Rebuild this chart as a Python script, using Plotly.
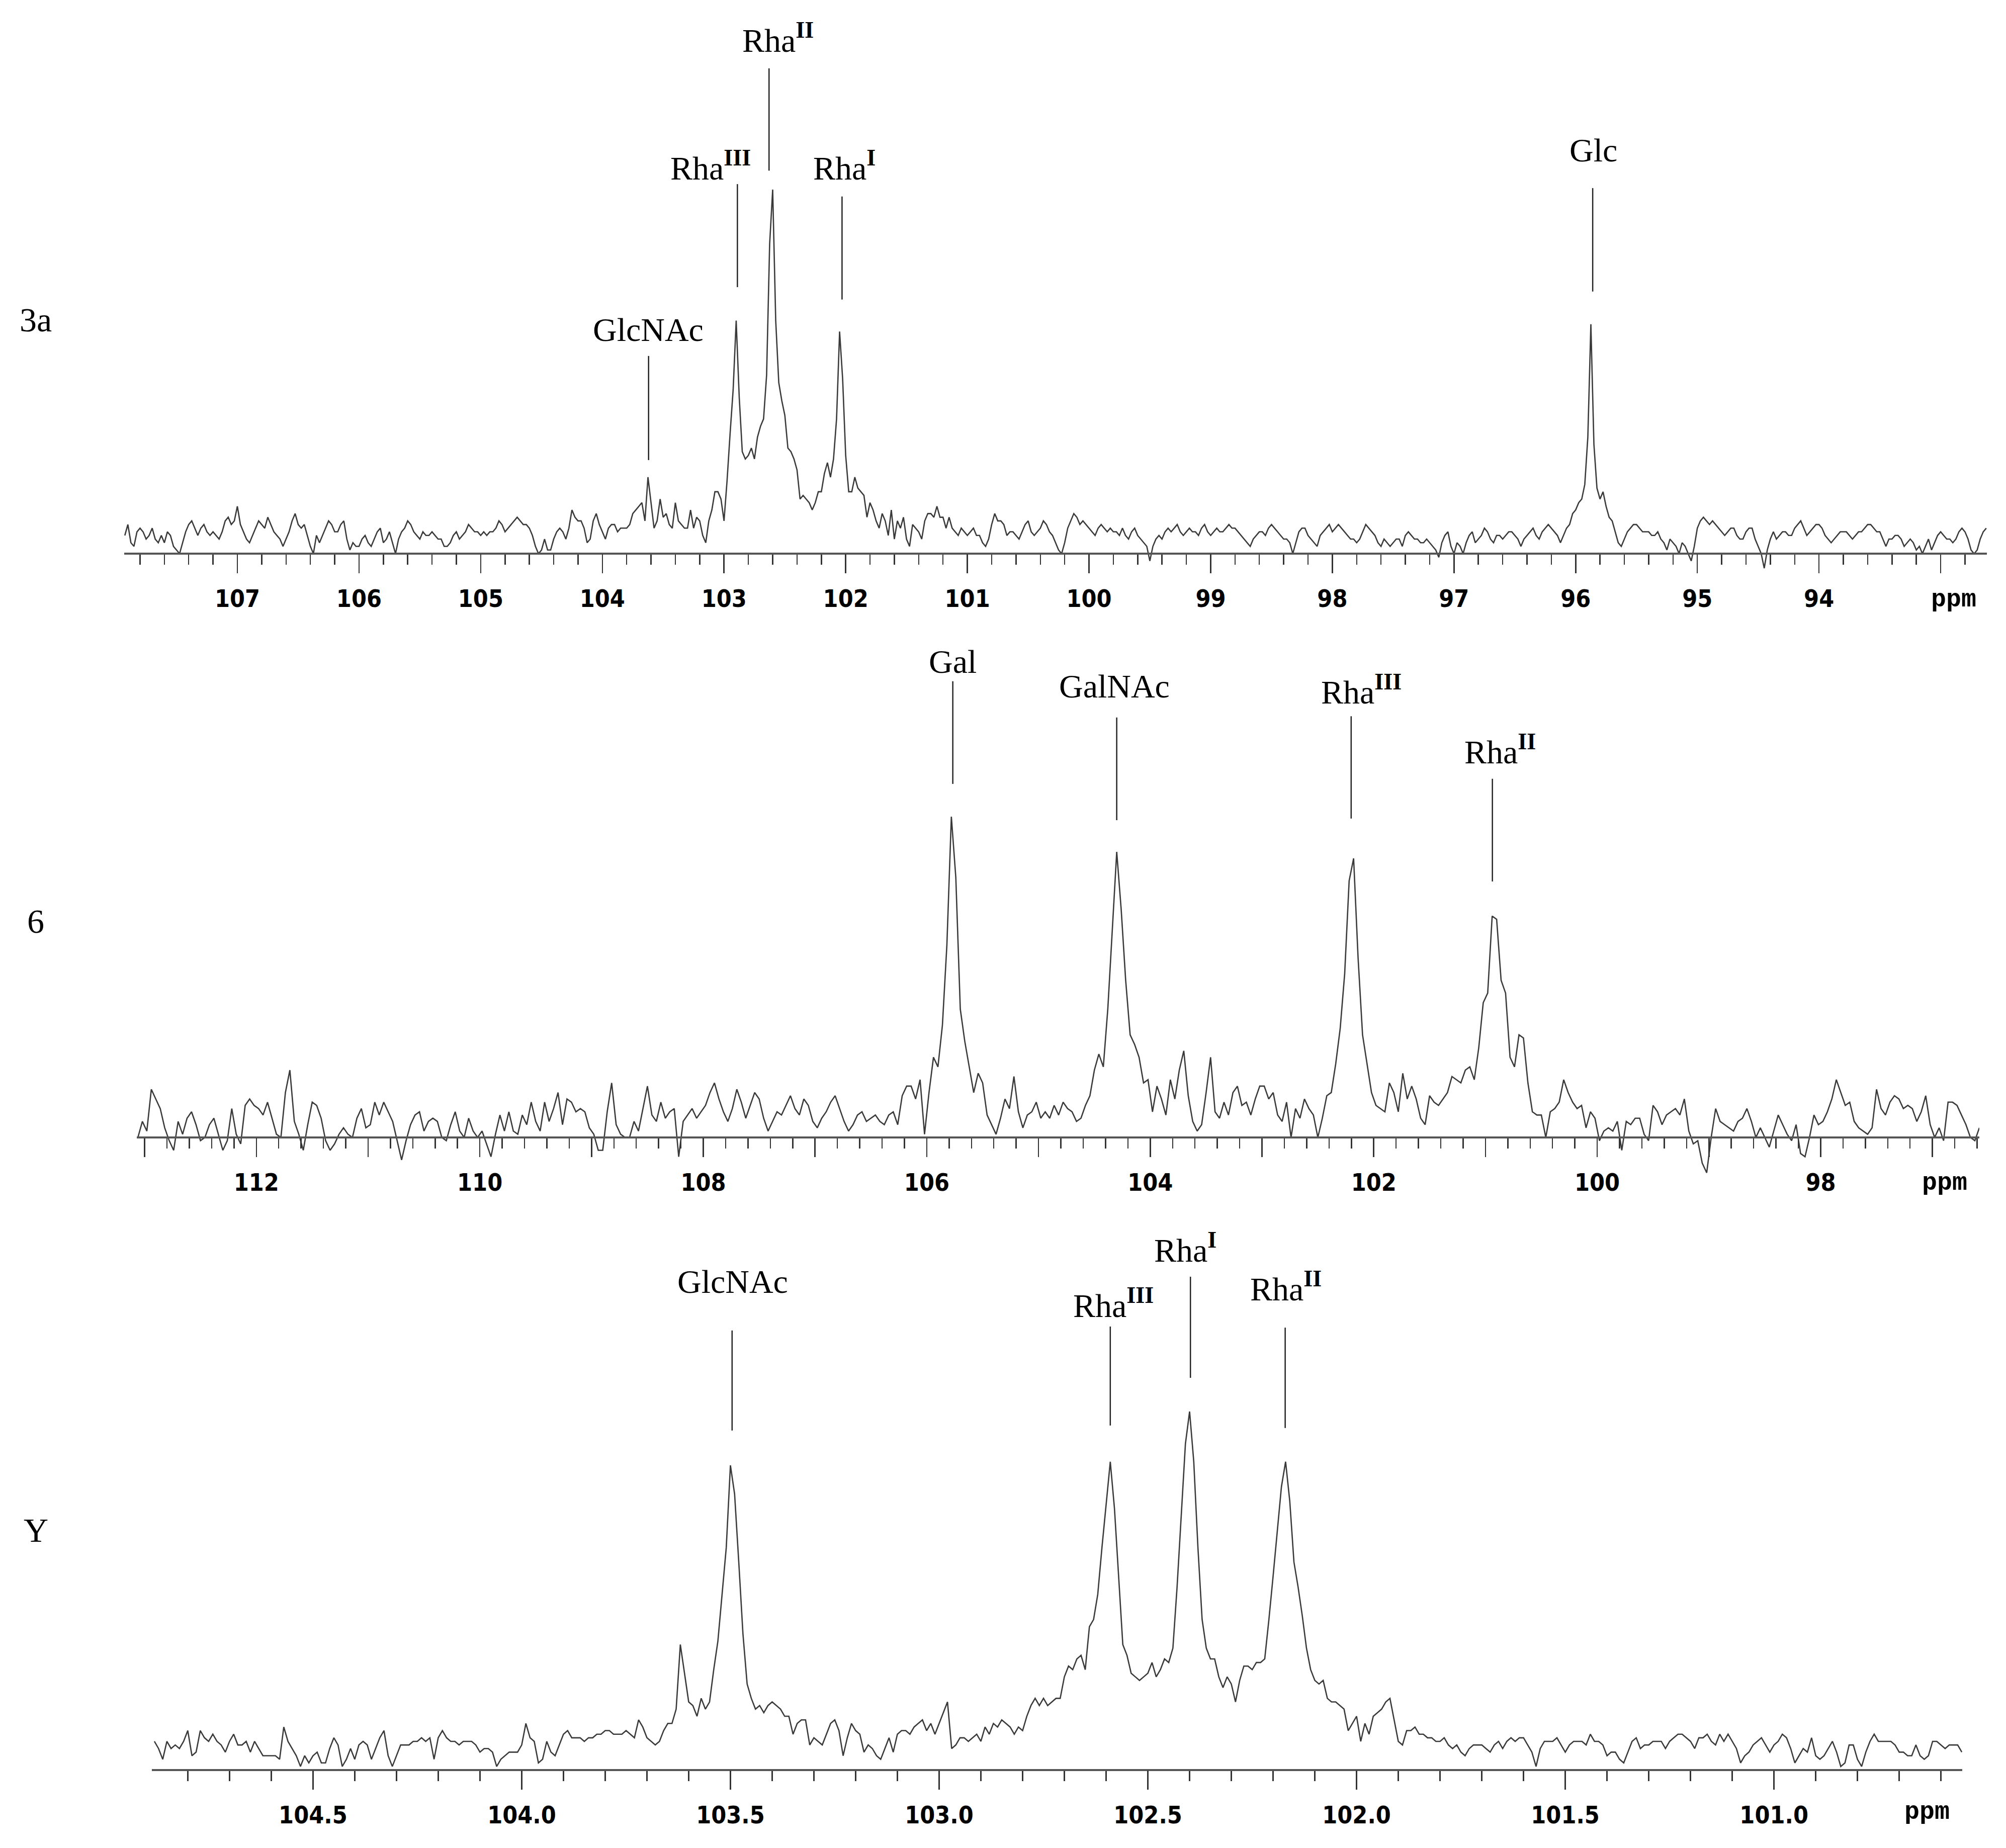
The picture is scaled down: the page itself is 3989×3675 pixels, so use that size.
import plotly.graph_objects as go

# ------------------------------------------------------------------ data
# Spectrum 3a : intensity (% of tallest peak) sampled every 0.025 ppm from 107.925 ppm
p1_ppm_start = 107.925
p1_ppm_step = 0.025
p1_int = [
    5, 8, 3, 2, 6, 7, 6, 4, 5, 7,
    4, 3, 5, 3, 6, 5, 2, 1, 0, 3,
    6, 8, 9, 7, 5, 7, 8, 6, 5, 6,
    5, 4, 6, 9, 10, 8, 9, 13, 8, 6,
    4, 3, 5, 7, 9, 8, 7, 10, 8, 6,
    5, 4, 2, 4, 6, 9, 11, 8, 7, 8,
    5, 2, 0, 5, 3, 5, 7, 9, 8, 6,
    6, 8, 9, 4, 1, 3, 2, 2, 4, 5,
    3, 2, 4, 6, 7, 3, 4, 6, 3, 0,
    4, 6, 7, 9, 8, 6, 5, 4, 6, 5,
    5, 6, 5, 4, 4, 2, 2, 3, 5, 6,
    4, 5, 6, 8, 7, 6, 6, 5, 6, 5,
    6, 6, 7, 9, 8, 6, 7, 8, 9, 10,
    9, 8, 8, 7, 5, 2, 0, 1, 4, 1,
    1, 4, 6, 7, 6, 4, 7, 12, 10, 9,
    9, 7, 3, 4, 9, 11, 8, 6, 4, 7,
    8, 8, 6, 7, 7, 7, 8, 11, 12, 13,
    14, 9, 21, 14, 7, 9, 15, 10, 11, 8,
    7, 14, 9, 8, 7, 7, 12, 7, 10, 9,
    5, 3, 9, 12, 17, 17, 15, 9, 20, 33,
    45, 64, 43, 28, 26, 27, 29, 26, 32, 35,
    37, 49, 85, 100, 64, 47, 42, 38, 29, 28,
    26, 23, 15, 16, 15, 14, 12, 14, 17, 17,
    22, 25, 21, 26, 37, 61, 48, 27, 17, 17,
    21, 18, 17, 16, 10, 14, 12, 9, 7, 11,
    9, 5, 12, 4, 9, 7, 10, 4, 2, 8,
    7, 6, 4, 9, 11, 11, 10, 13, 10, 10,
    7, 10, 7, 6, 5, 7, 6, 5, 6, 7,
    5, 5, 3, 2, 4, 8, 11, 9, 9, 8,
    5, 6, 6, 5, 4, 6, 8, 9, 6, 5,
    6, 7, 9, 8, 6, 5, 3, 1, 0, 3,
    7, 9, 11, 10, 8, 9, 8, 7, 6, 5,
    7, 8, 7, 6, 7, 6, 6, 5, 7, 5,
    4, 6, 7, 5, 4, 3, 2, -2, 2, 4,
    5, 4, 6, 7, 6, 7, 8, 6, 5, 6,
    7, 6, 6, 5, 7, 8, 6, 5, 6, 7,
    6, 6, 7, 8, 7, 7, 6, 5, 4, 3,
    2, 4, 5, 6, 6, 5, 7, 8, 7, 6,
    5, 4, 4, 3, 0, 3, 6, 7, 7, 5,
    4, 3, 2, 5, 6, 7, 8, 6, 7, 8,
    7, 6, 5, 4, 4, 3, 4, 6, 8, 7,
    6, 5, 3, 2, 4, 3, 2, 3, 4, 4,
    2, 5, 6, 5, 4, 4, 3, 3, 4, 3,
    2, 1, -1, 3, 5, 6, 2, 0, 3, 2,
    0, 3, 5, 6, 3, 4, 5, 7, 6, 4,
    3, 5, 5, 4, 5, 6, 6, 5, 4, 2,
    4, 5, 6, 7, 5, 4, 6, 7, 8, 7,
    6, 5, 3, 5, 7, 8, 11, 12, 14, 15,
    19, 32, 63, 30, 18, 15, 17, 13, 10, 9,
    6, 3, 2, 4, 6, 7, 8, 8, 7, 6,
    6, 6, 5, 5, 6, 4, 3, 1, 4, 3,
    2, 0, 3, 2, 0, -2, 2, 7, 9, 10,
    9, 8, 9, 8, 7, 6, 5, 6, 7, 7,
    5, 4, 4, 6, 7, 7, 4, 2, 0, -4,
    1, 4, 6, 4, 5, 6, 6, 5, 5, 7,
    8, 9, 7, 5, 6, 7, 8, 8, 7, 5,
    4, 3, 4, 5, 6, 6, 6, 5, 4, 5,
    6, 6, 7, 8, 8, 7, 6, 6, 4, 2,
    4, 4, 5, 5, 4, 2, 3, 4, 3, 1,
    2, 0, 2, 4, 1, 3, 5, 6, 5, 4,
    4, 3, 4, 6, 7, 6, 4, 1, 0, 1,
    4, 6, 7,
]

# Spectrum 6 : sampled every 0.04 ppm from 113.06 ppm
p2_ppm_start = 113.06
p2_ppm_step = 0.04
p2_int = [
    0, 5, 2, 15, 12, 9, 3, -1, -4, 5,
    1, 6, 8, 4, -1, 0, 4, 6, 1, -4,
    -1, 9, 1, -2, 10, 12, 10, 9, 7, 11,
    6, 1, 0, 14, 21, 5, 1, -4, 4, 11,
    10, 6, -1, -4, -2, 1, 3, 1, 0, 6,
    9, 3, 4, 11, 7, 11, 8, 5, -1, -7,
    -1, 4, 7, 8, 2, 5, 6, 5, 0, -1,
    4, 8, 2, 0, 6, 2, 0, 2, -2, -6,
    1, 7, 2, 8, 2, 1, 7, 4, 11, 5,
    2, 11, 5, 9, 14, 4, 12, 11, 8, 9,
    8, 3, 1, -4, -4, 8, 17, 4, 1, 0,
    0, 5, 2, 9, 16, 7, 5, 11, 6, 8,
    9, -6, 5, 7, 9, 6, 8, 10, 14, 17,
    12, 8, 5, 9, 15, 11, 6, 10, 14, 12,
    6, 2, 5, 8, 7, 10, 13, 9, 7, 12,
    10, 5, 3, 6, 8, 11, 13, 9, 5, 2,
    4, 7, 8, 5, 6, 7, 5, 4, 7, 8,
    4, 13, 16, 16, 12, 18, 1, 14, 25, 22,
    35, 60, 100, 81, 40, 30, 22, 14, 20, 17,
    7, 4, 1, 6, 12, 9, 19, 8, 3, 7,
    8, 11, 6, 8, 6, 10, 7, 11, 9, 8,
    5, 6, 10, 13, 21, 26, 22, 40, 64, 89,
    71, 49, 32, 29, 25, 17, 18, 8, 16, 12,
    7, 18, 12, 21, 27, 13, 5, 2, 4, 14,
    25, 8, 6, 11, 7, 14, 16, 10, 11, 7,
    12, 16, 16, 12, 14, 7, 5, 11, 0, 9,
    6, 12, 9, 7, 0, 6, 13, 14, 23, 34,
    51, 80, 87, 56, 32, 23, 14, 10, 9, 8,
    17, 14, 8, 20, 12, 16, 12, 6, 4, 13,
    11, 10, 12, 14, 19, 18, 17, 21, 22, 18,
    28, 42, 45, 69, 68, 49, 45, 25, 22, 32,
    31, 17, 8, 7, 7, 0, 8, 9, 11, 18,
    14, 11, 9, 10, 3, 8, 6, -1, 2, 3,
    2, 5, -4, 5, 4, 6, 6, 1, -1, 10,
    8, 4, 7, 8, 9, 7, 12, 2, -2, -1,
    -8, -11, 0, 9, 5, 4, 3, 2, 5, 6,
    9, 5, 0, 3, 0, -3, 2, 7, 4, 1,
    -1, 4, -5, -6, 0, 7, 4, 5, 8, 12,
    18, 14, 10, 11, 5, 3, 2, 1, 3, 15,
    9, 7, 11, 13, 12, 9, 10, 9, 5, 8,
    13, 4, 0, 3, -1, 11, 11, 10, 7, 4,
    0, -1, 3,
]

# Spectrum Y : sampled every 0.01 ppm from 104.88 ppm
p3_ppm_start = 104.88
p3_ppm_step = 0.01
p3_int = [
    8, 6, 3, 8, 6, 7, 6, 8, 11, 4,
    5, 11, 9, 8, 10, 8, 7, 5, 8, 10,
    7, 7, 8, 5, 8, 6, 4, 4, 4, 4,
    3, 12, 8, 6, 4, 1, 4, 2, 4, 5,
    2, 2, 6, 9, 7, 1, 3, 6, 3, 7,
    8, 7, 3, 6, 9, 11, 4, 1, 4, 7,
    7, 7, 8, 8, 9, 8, 9, 3, 9, 11,
    9, 8, 8, 7, 8, 8, 8, 7, 5, 6,
    6, 5, 1, 3, 4, 5, 5, 5, 7, 13,
    9, 8, 2, 3, 8, 5, 4, 7, 10, 11,
    9, 9, 9, 8, 9, 9, 10, 10, 11, 11,
    10, 10, 10, 11, 10, 9, 14, 12, 9, 8,
    7, 8, 11, 13, 13, 17, 35, 27, 19, 18,
    15, 20, 17, 19, 28, 36, 49, 62, 85, 77,
    58, 38, 24, 20, 17, 18, 16, 18, 19, 18,
    17, 15, 15, 10, 13, 14, 14, 7, 9, 8,
    7, 10, 13, 14, 11, 4, 9, 13, 11, 10,
    5, 7, 6, 4, 3, 6, 9, 5, 10, 11,
    11, 10, 12, 13, 14, 11, 13, 10, 13, 16,
    19, 6, 7, 9, 9, 8, 9, 10, 8, 12,
    10, 13, 12, 14, 13, 12, 10, 12, 11, 15,
    18, 20, 18, 20, 18, 19, 20, 20, 26, 29,
    28, 31, 32, 28, 40, 42, 49, 62, 74, 86,
    73, 54, 35, 32, 27, 26, 25, 26, 27, 30,
    26, 28, 31, 30, 34, 51, 71, 91, 100, 86,
    62, 42, 34, 31, 31, 26, 23, 26, 24, 19,
    25, 29, 29, 28, 30, 30, 31, 42, 54, 67,
    79, 86, 75, 58, 51, 43, 34, 28, 25, 24,
    25, 20, 19, 19, 18, 17, 11, 13, 15, 8,
    13, 10, 15, 16, 17, 19, 20, 14, 8, 7,
    11, 11, 12, 10, 10, 9, 9, 8, 8, 9,
    7, 6, 7, 5, 4, 6, 7, 7, 7, 6,
    5, 7, 8, 6, 8, 9, 8, 9, 9, 7,
    5, 1, 6, 8, 8, 8, 9, 7, 5, 7,
    8, 8, 8, 7, 10, 8, 8, 7, 4, 5,
    5, 3, 2, 5, 8, 9, 6, 7, 7, 8,
    8, 8, 6, 8, 9, 10, 10, 9, 8, 6,
    9, 9, 10, 8, 7, 10, 8, 10, 8, 6,
    2, 4, 5, 7, 8, 9, 7, 5, 7, 8,
    10, 9, 6, 2, 4, 6, 5, 9, 4, 3,
    4, 6, 8, 5, 1, 2, 7, 7, 3, 1,
    5, 8, 10, 8, 8, 8, 8, 7, 5, 5,
    4, 4, 7, 4, 3, 4, 8, 8, 7, 6,
    7, 7, 7, 5,
]

for name, arr, n in (("p1", p1_int, 613), ("p2", p2_int, 413), ("p3", p3_int, 434)):
    if len(arr) != n:
        raise SystemExit(f"{name} length {len(arr)} != {n}")

# axis ranges (ppm, reversed); long ticks and labelled ticks
p1_range = [107.93, 92.62]
p1_long_ticks = [107, 106, 105, 104, 103, 102, 101, 100, 99, 98, 97, 96, 95, 94, 93]
p1_label_ticks = [107, 106, 105, 104, 103, 102, 101, 100, 99, 98, 97, 96, 95, 94]
p1_label_text = ["107", "106", "105", "104", "103", "102", "101", "100", "99", "98", "97", "96", "95", "94"]

p2_range = [113.07, 96.58]
p2_long_ticks = [113, 112, 111, 110, 109, 108, 107, 106, 105, 104, 103, 102, 101, 100, 99, 98, 97]
p2_label_ticks = [112, 110, 108, 106, 104, 102, 100, 98]
p2_label_text = ["112", "110", "108", "106", "104", "102", "100", "98"]

p3_range = [104.886, 100.549]
p3_long_ticks = [104.5, 104.0, 103.5, 103.0, 102.5, 102.0, 101.5, 101.0]
p3_label_ticks = [104.5, 104.0, 103.5, 103.0, 102.5, 102.0, 101.5, 101.0]
p3_label_text = ["104.5", "104.0", "103.5", "103.0", "102.5", "102.0", "101.5", "101.0"]

# peak assignments: label, ppm of marker line, marker line span (intensity units)
p1_labels = ["GlcNAc", "Rha<sup><b>III</b></sup>", "Rha<sup><b>II</b></sup>", "Rha<sup><b>I</b></sup>", "Glc"]
p1_line_ppm = [103.62, 102.89, 102.63, 102.03, 95.86]
p1_line_lo = [25.7, 73.2, 105.2, 69.8, 72.0]
p1_line_hi = [54.3, 101.5, 133.3, 98.1, 100.4]
p1_lab_ppm = [103.624, 103.112, 102.558, 102.012, 95.855]
p1_lab_y = [61.5, 106.5, 141.6, 106.5, 110.9]

p2_labels = ["Gal", "GalNAc", "Rha<sup><b>III</b></sup>", "Rha<sup><b>II</b></sup>"]
p2_line_ppm = [105.767, 104.30, 102.202, 100.938]
p2_line_lo = [110.2, 98.9, 99.4, 79.8]
p2_line_hi = [142.2, 130.9, 131.3, 111.8]
p2_lab_ppm = [105.767, 104.322, 102.112, 100.87]
p2_lab_y = [148.3, 140.6, 139.5, 121.0]

p3_labels = ["GlcNAc", "Rha<sup><b>III</b></sup>", "Rha<sup><b>I</b></sup>", "Rha<sup><b>II</b></sup>"]
p3_line_ppm = [103.496, 102.590, 102.398, 102.171]
p3_line_lo = [94.7, 96.1, 109.4, 95.4]
p3_line_hi = [122.6, 123.7, 137.6, 123.4]
p3_lab_ppm = [103.495, 102.582, 102.410, 102.169]
p3_lab_y = [136.2, 130.2, 145.7, 134.8]

panel_names = ["3a", "6", "Y"]

# ------------------------------------------------------------------ layout helpers
W, H = 3989, 3675
LINE_C = "#3a3a3a"
AXIS_C = "#555555"
TICK_C = "#333333"
SERIF = "Liberation Serif, Times New Roman, serif"
TICKF = "DejaVu Sans Condensed, DejaVu Sans, sans-serif"
MONO = "Liberation Mono, Courier New, monospace"


def grid(start, step, n):
    return [round(start - i * step, 4) for i in range(n)]


p1_ppm = grid(p1_ppm_start, p1_ppm_step, len(p1_int))
p2_ppm = grid(p2_ppm_start, p2_ppm_step, len(p2_int))
p3_ppm = grid(p3_ppm_start, p3_ppm_step, len(p3_int))

# pixel geometry of each panel: x extent, axis line y, y extent, px per intensity unit
panels = [
    dict(x0=247, x1=3951, axis=1101, bottom=1140, top=0, ppu=7.24, minor=0.2, ppm_xy=(3885, 1192)),
    dict(x0=272, x1=3936, axis=2262, bottom=2362, top=1200, ppu=6.38, minor=0.2, ppm_xy=(3867, 2352)),
    dict(x0=302, x1=3902, axis=3520, bottom=3560, top=2400, ppu=7.13, minor=0.1, ppm_xy=(3832, 3603)),
]
ranges = [p1_range, p2_range, p3_range]
long_ticks = [p1_long_ticks, p2_long_ticks, p3_long_ticks]
label_ticks = [p1_label_ticks, p2_label_ticks, p3_label_ticks]
label_texts = [p1_label_text, p2_label_text, p3_label_text]
xs = [p1_ppm, p2_ppm, p3_ppm]
ys = [p1_int, p2_int, p3_int]

fig = go.Figure()
layout = dict(
    width=W, height=H,
    margin=dict(l=0, r=0, t=0, b=0, pad=0),
    paper_bgcolor="white", plot_bgcolor="white",
    showlegend=False,
)

for i, pn in enumerate(panels):
    k = str(i + 1) if i else ""
    kl = str(i + 4)  # overlaid axis that only carries the tick labels
    fig.add_trace(go.Scatter(
        x=xs[i], y=ys[i], mode="lines",
        line=dict(color=LINE_C, width=2.6),
        xaxis="x" + k, yaxis="y" + k, hoverinfo="skip",
    ))
    fig.add_trace(go.Scatter(x=[], y=[], mode="lines", xaxis="x" + kl, yaxis="y" + k,
                             hoverinfo="skip"))
    pos = 1 - pn["axis"] / H
    layout["xaxis" + k] = dict(
        domain=[pn["x0"] / W, pn["x1"] / W],
        range=ranges[i],
        anchor="free", position=pos, side="bottom",
        showline=True, linecolor=AXIS_C, linewidth=4,
        ticks="outside", ticklen=37, tickwidth=2.5, tickcolor=TICK_C,
        tickmode="array", tickvals=long_ticks[i], showticklabels=False,
        minor=dict(dtick=pn["minor"], tick0=0, ticks="outside", ticklen=20,
                   tickwidth=2.5, tickcolor=TICK_C, showgrid=False),
        showgrid=False, zeroline=False, fixedrange=True,
    )
    layout["xaxis" + kl] = dict(
        overlaying="x" + k,
        range=ranges[i],
        anchor="free", position=pos, side="bottom",
        showline=False,
        ticks="outside", ticklen=37, tickwidth=2.5, tickcolor=TICK_C,
        tickmode="array", tickvals=label_ticks[i], ticktext=label_texts[i],
        tickfont=dict(family=TICKF, size=48, color="black", weight="bold"),
        ticklabelstandoff=10,
        showgrid=False, zeroline=False, fixedrange=True,
    )
    layout["yaxis" + k] = dict(
        domain=[1 - pn["bottom"] / H, 1 - pn["top"] / H],
        range=[-(pn["bottom"] - pn["axis"]) / pn["ppu"], (pn["axis"] - pn["top"]) / pn["ppu"]],
        visible=False, anchor="x" + k, fixedrange=True,
    )

fig.update_layout(**layout)

shapes = []
annotations = []
label_sets = [
    (p1_labels, p1_line_ppm, p1_line_lo, p1_line_hi, p1_lab_ppm, p1_lab_y),
    (p2_labels, p2_line_ppm, p2_line_lo, p2_line_hi, p2_lab_ppm, p2_lab_y),
    (p3_labels, p3_line_ppm, p3_line_lo, p3_line_hi, p3_lab_ppm, p3_lab_y),
]
for i, (labs, lppm, llo, lhi, tppm, ty) in enumerate(label_sets):
    k = str(i + 1) if i else ""
    for j in range(len(labs)):
        shapes.append(dict(type="line", xref="x" + k, yref="y" + k,
                           x0=lppm[j], x1=lppm[j], y0=llo[j], y1=lhi[j],
                           line=dict(color="#222222", width=2.5)))
        annotations.append(dict(x=tppm[j], y=ty[j], xref="x" + k, yref="y" + k,
                                text=labs[j], showarrow=False,
                                xanchor="center", yanchor="middle",
                                font=dict(family=SERIF, size=66, color="black")))

# "ppm" unit labels at the right end of each axis (paper coordinates)
for pn in panels:
    px, py = pn["ppm_xy"]
    annotations.append(dict(x=px / W, y=1 - py / H, xref="paper", yref="paper", text="ppm",
                            showarrow=False, xanchor="center", yanchor="middle",
                            font=dict(family=MONO, size=50, color="black", weight="bold")))

# panel names on the left
name_y = [636, 1832, 3043]
for name, yy in zip(panel_names, name_y):
    annotations.append(dict(x=71 / W, y=1 - yy / H, xref="paper", yref="paper",
                            text=name, showarrow=False, xanchor="center", yanchor="middle",
                            font=dict(family=SERIF, size=68, color="black")))

fig.update_layout(shapes=shapes, annotations=annotations)

fig.write_html("out.html", include_plotlyjs=True, full_html=True,
               config={"staticPlot": True},
               post_script="document.body.style.margin='0';")
